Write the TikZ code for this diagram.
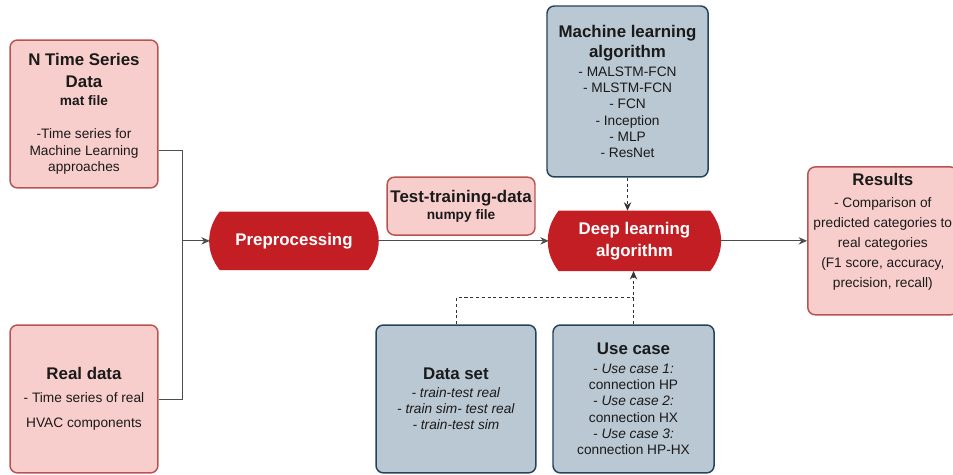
\documentclass[tikz,border=0pt]{standalone}
\usepackage{fontspec}
\setmainfont{Liberation Sans}
\usepackage{xcolor}
\usetikzlibrary{arrows.meta,positioning,backgrounds}

\definecolor{pinkfill}{HTML}{F8CECC}
\definecolor{pinkline}{HTML}{B85450}
\definecolor{bluefill}{HTML}{BAC8D3}
\definecolor{blueline}{HTML}{23445D}
\definecolor{redfill}{HTML}{C41E25}
\definecolor{textdark}{HTML}{1A1A1A}
\definecolor{linegray}{HTML}{4D4D4D}

\newcommand{\hd}{\bfseries\fontsize{16}{20}\selectfont}
\newcommand{\sub}{\bfseries\fontsize{13}{16}\selectfont}

\tikzset{
  box/.style={draw, line width=1.4pt, rounded corners=7pt, align=center, text=textdark,
    font=\fontsize{13}{15.5}\selectfont, inner sep=2pt},
  pinkbox/.style={box, draw=pinkline, fill=pinkfill},
  bluebox/.style={box, draw=blueline, fill=bluefill},
  redbox/.style={align=center, text=white, font=\bfseries\fontsize{16}{21}\selectfont, inner sep=0pt},
  conn/.style={draw=linegray, line width=0.8pt},
  dashconn/.style={draw=black!80, line width=0.8pt, dash pattern=on 3pt off 2.5pt},
  tip/.style={-{Stealth[length=8pt,width=7pt]}},
}

\begin{document}
\begin{tikzpicture}
\clip (0,0) rectangle (31.77,-15.83);

% input data
\node[pinkbox, minimum width=4.93cm, minimum height=4.93cm] (ts) at (2.8,-3.8)
  {{\hd N Time Series}\\[5pt]{\hd Data}\\[2pt]{\sub mat file}\\[16pt]-Time series for\\Machine Learning\\approaches};
\node[pinkbox, minimum width=4.93cm, minimum height=4.93cm] (real) at (2.8,-13.3)
  {{\hd Real data}\\[6pt]- Time series of real\\[9pt]HVAC components};

% processing steps
\node[redbox, minimum width=5.6cm, minimum height=1.93cm] (prep) at (9.8,-8.03) {Preprocessing};
\node[redbox, minimum width=5.7cm, minimum height=2cm] (dl) at (21.15,-8.03) {Deep learning\\algorithm};
\begin{scope}[on background layer]
\foreach \n in {prep,dl}
  \fill[redfill] ([xshift=0.33cm]\n.north west) -- ([xshift=-0.33cm]\n.north east)
    to[bend left=38] ([xshift=-0.33cm]\n.south east) -- ([xshift=0.33cm]\n.south west)
    to[bend left=38] ([xshift=0.33cm]\n.north west) -- cycle;
\end{scope}

\node[pinkbox, minimum width=4.93cm, minimum height=1.93cm] (ttd) at (15.37,-6.87)
  {{\hd Test-training-data}\\[1pt]{\sub numpy file}};

\node[bluebox, minimum width=5.37cm, minimum height=5.7cm] (ml) at (20.92,-3.05)
  {{\hd Machine learning}\\[4pt]{\hd algorithm}\\[2pt]- MALSTM-FCN\\- MLSTM-FCN\\- FCN\\- Inception\\- MLP\\- ResNet};

\node[bluebox, minimum width=5.33cm, minimum height=4.93cm] (ds) at (15.2,-13.3)
  {{\hd Data set}\\[1pt]\textit{- train-test real}\\\textit{- train sim- test real}\\\textit{- train-test sim}};
\node[bluebox, minimum width=5.37cm, minimum height=4.93cm] (uc) at (21.12,-13.3)
  {{\hd Use case}\\[2pt]\textit{- Use case 1:}\\connection HP\\\textit{- Use case 2:}\\connection HX\\\textit{- Use case 3:}\\connection HP-HX};

% results
\node[pinkbox, minimum width=5cm, minimum height=4.93cm] (res) at (29.43,-8.03) {};
\node[align=center, text=textdark, font=\fontsize{13}{19}\selectfont] (restext) at ([yshift=0.3cm]res.center)
  {{\hd Results}\\[1pt]- Comparison of\\predicted categories to\\real categories\\(F1 score, accuracy,\\precision, recall)};

% connectors
\coordinate (jn) at (6.07,-8.03);
\draw[conn] ([yshift=-1.2cm]ts.east) -| (jn);
\draw[conn] (real.east) -| (jn);
\draw[conn, tip] (jn) -- (prep.west);
\draw[conn, tip] (prep.east) -- (dl.west);
\draw[conn, tip] (dl.east) -- (res.west);

\draw[dashconn, tip] (ml.south) -- (ml.south |- dl.north);
\coordinate (dsmid) at (21.12,-9.93);
\draw[dashconn] (ds.north) |- (dsmid);
\draw[dashconn, tip] (uc.north) -- (uc.north |- dl.south);
\end{tikzpicture}
\end{document}
